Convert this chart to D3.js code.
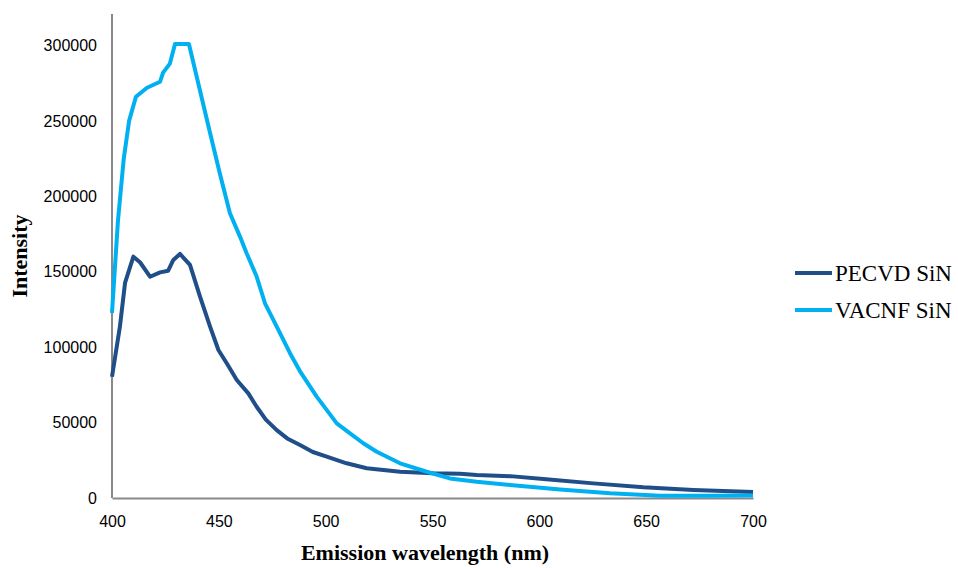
<!DOCTYPE html>
<html>
<head>
<meta charset="utf-8">
<script src="https://cdn.jsdelivr.net/npm/d3@7"></script>
<style>
  body { margin: 0; background: #fff; }
  .tick text { font-family: "Liberation Sans", Arial, sans-serif; font-size: 16px; fill: #000; }
  .axisTitle, .legendText { font-family: "Liberation Serif", "Times New Roman", serif; fill: #000; }
</style>
</head>
<body>
<div id="chart"></div>
<script>
var w = 958;
var h = 568;

// wavelength (nm) / intensity
var pecvdX = [400, 403.7, 406.1, 410, 413.1, 417.8, 422.5, 426.3, 428.7, 431.8, 436.5, 441.2, 445.9, 449.8, 453.7,
  458.4, 463.8, 467.7, 472, 477.1, 482, 488, 494, 500.5, 509.8, 519.2, 534.8, 550.3, 562.9, 570.7, 586.3, 601.9,
  625.3, 648.7, 672.1, 700];
var pecvdY = [80400, 113600, 142600, 160000, 156300, 146700, 149600, 150700, 157800, 161800, 154500, 133500, 113600, 98100, 89300,
  78200, 69400, 60500, 52000, 45000, 39500, 35100, 30500, 27400, 23000, 19700, 17400, 16400, 16000, 15300, 14500, 12600,
  9700, 7100, 5300, 4000];

var vacnfX = [400, 402.8, 405.5, 408, 411.2, 416.4, 422.5, 423.9, 427.1, 429.5, 436, 441.2, 445.9, 450.5, 452.1, 455.2,
  459.9, 463, 467.7, 471.6, 477.1, 483.3, 488, 495.8, 505.2, 511.4, 517.6, 523.9, 534.8, 547.3, 558.1, 570.7,
  586.3, 609.7, 633.1, 656.5, 680, 700];
var vacnfY = [122700, 184000, 225000, 250000, 266000, 272000, 276000, 282000, 288000, 301000, 301000, 270000, 242000, 215000, 206000, 188800,
  173300, 162300, 146800, 129100, 113600, 96000, 84000, 67200, 49500, 42900, 36300, 30700, 23000, 17400, 13000, 10800,
  8600, 5700, 3100, 1500, 1500, 1700];

var xTicks = [400, 450, 500, 550, 600, 650, 700];
var yTicks = [0, 50000, 100000, 150000, 200000, 250000, 300000];
var seriesNames = ["PECVD SiN", "VACNF SiN"];
var seriesColors = ["#1f4e88", "#00b0f0"];

var svg = d3.select("#chart")
  .append("svg")
  .attr("width", w)
  .attr("height", h);

var x = d3.scaleLinear().domain([400, 700]).range([112, 753]);
var y = d3.scaleLinear().domain([0, 300000]).range([498, 45.5]);

// axes
var xAxis = svg.append("g")
  .attr("transform", "translate(0," + y(0) + ")")
  .call(d3.axisBottom(x).tickValues(xTicks).tickSize(0).tickPadding(18).tickFormat(d3.format("d")));
xAxis.select(".domain").attr("stroke", "#898989").attr("stroke-width", 2);

var yAxis = svg.append("g")
  .attr("transform", "translate(" + x(400) + ",0)")
  .call(d3.axisLeft(y).tickValues(yTicks).tickSize(0).tickPadding(15).tickFormat(d3.format("d")));
yAxis.select(".domain").remove();
yAxis.append("line")
  .attr("x1", 0).attr("x2", 0)
  .attr("y1", 14).attr("y2", y(0))
  .attr("stroke", "#898989").attr("stroke-width", 2);

// lines
var line = d3.line()
  .x(function (d) { return x(d[0]); })
  .y(function (d) { return y(d[1]); });

var series = [d3.zip(pecvdX, pecvdY), d3.zip(vacnfX, vacnfY)];

svg.selectAll(".series")
  .data(series)
  .enter()
  .append("path")
  .attr("class", "series")
  .attr("d", line)
  .attr("fill", "none")
  .attr("stroke", function (d, i) { return seriesColors[i]; })
  .attr("stroke-width", 4)
  .attr("stroke-linejoin", "round");

// axis titles
svg.append("text")
  .attr("class", "axisTitle")
  .attr("x", 425)
  .attr("y", 560)
  .attr("text-anchor", "middle")
  .attr("font-size", "22px")
  .attr("font-weight", "bold")
  .text("Emission wavelength (nm)");

svg.append("text")
  .attr("class", "axisTitle")
  .attr("transform", "translate(27,256) rotate(-90)")
  .attr("text-anchor", "middle")
  .attr("font-size", "22px")
  .attr("font-weight", "bold")
  .text("Intensity");

// legend
var legend = svg.selectAll(".legend")
  .data(seriesNames)
  .enter()
  .append("g")
  .attr("class", "legend")
  .attr("transform", function (d, i) { return "translate(795," + (273 + i * 37) + ")"; });

legend.append("line")
  .attr("x1", 0).attr("x2", 37)
  .attr("stroke", function (d, i) { return seriesColors[i]; })
  .attr("stroke-width", 4);

legend.append("text")
  .attr("class", "legendText")
  .attr("x", 40)
  .attr("y", 8)
  .attr("font-size", "23px")
  .text(function (d) { return d; });
</script>
</body>
</html>
